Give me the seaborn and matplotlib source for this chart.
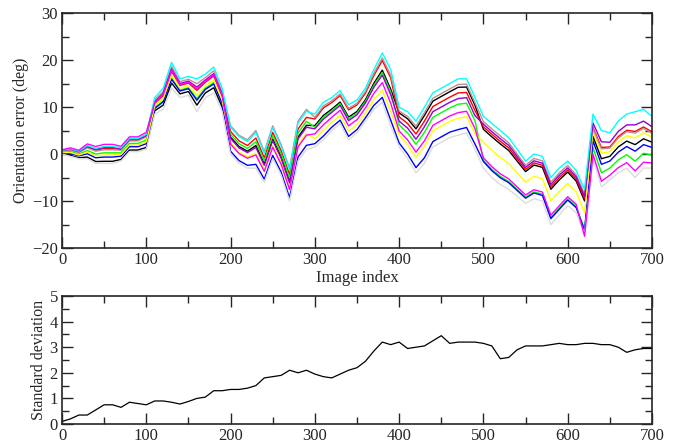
import matplotlib
matplotlib.use("Agg")
import matplotlib.pyplot as plt
import seaborn as sns
import pandas as pd
from matplotlib.ticker import MultipleLocator

# image index, sampled every 10 frames
index = list(range(0, 701, 10))

# orientation error (deg) of each run
black = [0.1, -0.3, -0.8, -0.65, -1.6, -1.55, -1.55, -1.15, 0.85, 0.85, 1.4,
         9.2, 10.4, 15.1, 12.8, 13.3, 10.4, 13.0, 14.1, 10.0,
         3.6, 1.6, 0.6, 1.8, -2.1, 3.2, -0.6, -5.8, 3.6, 6.1,
         6.05, 8.2, 9.55, 11.05, 7.85, 9.05, 11.55, 15.05, 17.85, 13.8,
         8.75, 7.5, 5.35, 8.2, 11.25, 12.25, 13.25, 14.2, 14.25, 10.35,
         5.25, 3.65, 2.15, 0.75, -1.5, -3.75, -2.35, -2.85, -7.5, -5.5, -3.85, -5.75, -10.0,
         3.75, -1.0, -0.5, 1.5, 2.75, 2.0, 3.25, 2.5]
red = [0.7, 0.9, 0.4, 1.45, 0.8, 1.15, 1.15, 0.95, 2.95, 2.95, 3.8,
       10.8, 12.4, 17.6, 14.6, 15.1, 13.55, 15.25, 16.6, 12.25,
       4.8, 2.8, 1.8, 3.4, -0.8, 4.6, 0.7, -4.4, 5.3, 7.8,
       7.45, 9.8, 10.95, 12.45, 9.4, 10.45, 12.95, 16.7, 19.9, 16.2,
       7.9, 6.5, 4.25, 7.0, 10.1, 11.1, 12.1, 13.0, 13.1, 9.25,
       5.8, 4.2, 2.7, 1.3, -1.0, -3.3, -1.9, -2.4, -7.0, -5.0, -3.4, -5.3, -9.5,
       5.65, 1.4, 1.5, 3.7, 5.05, 4.8, 5.75, 4.7]
green = [0.5, 0.5, 0.0, 0.75, 0.0, 0.25, 0.25, 0.25, 2.25, 2.25, 3.0,
         9.9, 11.3, 16.2, 13.6, 14.1, 11.8, 14.0, 15.2, 11.0,
         4.2, 2.2, 1.2, 2.6, -1.45, 3.9, 0.05, -5.1, 4.45, 6.95,
         5.7, 7.8, 9.2, 10.7, 7.5, 8.7, 11.2, 14.6, 17.3, 13.2,
         6.2, 4.5, 2.05, 4.6, 7.8, 8.8, 9.8, 10.6, 10.8, 7.05,
         -1.35, -3.25, -4.75, -5.85, -7.5, -9.15, -8.05, -8.55, -13.5, -11.5, -9.55, -11.15, -16.0,
         1.35, -4.0, -3.0, -1.25, -0.15, -1.5, 0.15, -0.25]
blue = [0.3, 0.1, -0.4, 0.05, -0.8, -0.65, -0.65, -0.45, 1.55, 1.55, 2.2,
        9.7, 11.1, 15.9, 13.4, 13.9, 11.45, 13.75, 14.9, 10.75,
        0.6, -1.4, -2.4, -2.2, -5.35, -0.3, -3.85, -9.3, -0.65, 1.85,
        2.2, 3.8, 5.7, 7.2, 3.75, 5.2, 7.7, 10.35, 12.05, 7.2,
        2.35, 0.0, -2.9, -0.8, 2.65, 3.65, 4.65, 5.2, 5.65, 2.1,
        -1.6, -3.55, -5.05, -6.1, -7.75, -9.4, -8.3, -8.8, -13.75, -11.75, -9.8, -11.4, -16.25,
        2.8, -2.2, -1.5, 0.4, 1.6, 0.6, 2.0, 1.4]
yellow = [0.4, 0.3, -0.2, 0.4, -0.4, -0.2, -0.2, -0.1, 1.9, 1.9, 2.6,
          10.25, 11.75, 16.75, 14.0, 14.5, 12.5, 14.5, 15.75, 11.5,
          2.4, 0.4, -0.6, 0.2, -3.4, 1.8, -1.9, -7.2, 1.9, 4.4,
          3.25, 5.0, 6.75, 8.25, 4.9, 6.25, 8.75, 11.6, 13.6, 9.0,
          4.05, 2.0, -0.7, 1.6, 4.95, 5.95, 6.95, 7.6, 7.95, 4.3,
          2.5, 0.75, -0.75, -2.0, -4.0, -6.0, -4.75, -5.25, -10.0, -8.0, -6.25, -8.0, -12.5,
          4.7, 0.2, 0.5, 2.6, 3.9, 3.4, 4.5, 3.6]
brown = [0.65, 0.8, 0.3, 1.3, 0.6, 0.9, 0.9, 0.8, 2.8, 2.8, 3.6,
         11.5, 13.3, 18.7, 15.4, 15.9, 14.95, 16.25, 17.7, 13.25,
         6.0, 4.0, 3.0, 5.0, 0.5, 6.0, 2.0, -3.0, 7.0, 9.5,
         7.8, 10.2, 11.3, 12.8, 9.75, 10.8, 13.3, 17.15, 20.45, 16.8,
         9.15, 8.0, 5.9, 8.8, 11.85, 12.85, 13.85, 14.8, 14.85, 10.9,
         6.9, 5.35, 3.85, 2.4, 0.0, -2.4, -0.95, -1.45, -6.0, -4.0, -2.45, -4.4, -8.5,
         5.4, 1.1, 1.25, 3.4, 4.75, 4.45, 5.45, 4.4]
grey = [0.0, -0.5, -1.0, -1.0, -2.0, -2.0, -2.0, -1.5, 0.5, 0.5, 1.0,
        8.5, 9.5, 14.0, 12.0, 12.5, 9.0, 12.0, 13.0, 9.0,
        0.0, -2.0, -3.0, -3.0, -6.0, -1.0, -4.5, -10.0, -1.5, 1.0,
        1.5, 3.0, 5.0, 6.5, 3.0, 4.5, 7.0, 9.5, 11.0, 6.0,
        1.5, -1.0, -4.0, -2.0, 1.5, 2.5, 3.5, 4.0, 4.5, 1.0,
        -3.0, -5.0, -6.5, -7.5, -9.0, -10.5, -9.5, -10.0, -15.0, -13.0, -11.0, -12.5, -17.0,
        -1.0, -7.0, -5.5, -4.0, -3.0, -5.0, -3.0, -3.0]
violet = [0.75, 1.0, 0.5, 1.6, 1.0, 1.4, 1.4, 1.1, 3.1, 3.1, 4.0,
          11.1, 12.9, 18.1, 15.0, 15.5, 14.25, 15.75, 17.1, 12.75,
          3.3, 1.3, 0.3, 1.4, -2.4, 2.85, -0.9, -6.15, 3.2, 5.7,
          5.35, 7.4, 8.85, 10.35, 7.1, 8.35, 10.85, 14.2, 16.8, 12.6,
          7.0, 5.5, 3.15, 5.8, 9.0, 10.0, 11.0, 11.8, 12.0, 8.15,
          6.35, 4.75, 3.25, 1.85, -0.5, -2.85, -1.45, -1.95, -6.5, -4.5, -2.95, -4.85, -9.0,
          6.6, 2.6, 2.5, 4.8, 6.2, 6.2, 7.0, 5.8]
cyan = [0.8, 1.1, 0.6, 1.8, 1.2, 1.6, 1.6, 1.3, 3.3, 3.3, 4.2,
        12.0, 14.0, 19.5, 16.0, 16.5, 16.0, 17.0, 18.5, 14.0,
        5.7, 3.7, 2.7, 4.6, 0.2, 5.65, 1.7, -3.35, 6.6, 9.1,
        8.5, 11.0, 12.0, 13.5, 10.5, 11.5, 14.0, 18.0, 21.5, 18.0,
        10.0, 9.0, 7.0, 10.0, 13.0, 14.0, 15.0, 16.0, 16.0, 12.0,
        8.0, 6.5, 5.0, 3.5, 1.0, -1.5, 0.0, -0.5, -5.0, -3.0, -1.5, -3.5, -7.5,
        8.5, 5.0, 4.5, 7.0, 8.5, 9.0, 9.5, 8.0]
magenta = [0.9, 1.3, 0.8, 2.15, 1.6, 2.05, 2.05, 1.65, 3.65, 3.65, 4.6,
           10.95, 12.65, 17.85, 14.8, 15.3, 13.9, 15.5, 16.85, 12.5,
           2.1, 0.1, -0.9, -0.2, -3.7, 1.45, -2.2, -7.55, 1.5, 4.0,
           4.3, 6.2, 7.8, 9.3, 6.0, 7.3, 9.8, 12.9, 15.2, 10.8,
           4.9, 3.0, 0.4, 2.8, 6.1, 7.1, 8.1, 8.8, 9.1, 5.4,
           -0.8, -2.7, -4.2, -5.3, -7.0, -8.7, -7.6, -8.1, -13.0, -11.0, -9.1, -10.7, -17.5,
           -0.05, -5.8, -4.5, -2.9, -1.85, -3.6, -1.75, -1.9]

# standard deviation across runs
std_dev = [0.1, 0.2, 0.35, 0.35, 0.55, 0.75, 0.75, 0.65, 0.85, 0.8, 0.75,
           0.9, 0.9, 0.85, 0.78, 0.88, 1.0, 1.05, 1.3, 1.3,
           1.35, 1.35, 1.4, 1.5, 1.8, 1.85, 1.9, 2.1, 2.0, 2.1,
           1.95, 1.85, 1.8, 1.95, 2.1, 2.2, 2.45, 2.85, 3.2, 3.1,
           3.2, 2.95, 3.0, 3.05, 3.25, 3.45, 3.15, 3.2, 3.2, 3.2,
           3.15, 3.05, 2.55, 2.6, 2.9, 3.05, 3.05, 3.05, 3.1, 3.15,
           3.1, 3.1, 3.15, 3.15, 3.1, 3.1, 3.0, 2.8, 2.9, 2.95, 2.95]

runs = {"black": black, "red": red, "green": green, "blue": blue,
        "yellow": yellow, "brown": brown, "grey": grey, "violet": violet,
        "cyan": cyan, "magenta": magenta}
palette = {"black": "#000000", "red": "#ff0000", "green": "#00ff00",
           "blue": "#0000ff", "yellow": "#ffff00", "brown": "#bc8f8f",
           "grey": "#dcdcdc", "violet": "#9400d3", "cyan": "#00ffff",
           "magenta": "#ff00ff"}

rows = []
for name, vals in runs.items():
    for i, v in zip(index, vals):
        rows.append({"Image index": i, "err": v, "run": name})
df = pd.DataFrame(rows)

sns.set_theme(style="ticks")
plt.rcParams["font.family"] = ["Liberation Serif", "DejaVu Serif"]

fig = plt.figure(figsize=(6.83, 4.45), dpi=100)
ax1 = fig.add_axes([0.0908, 0.4427, 0.8638, 0.528])
ax2 = fig.add_axes([0.0908, 0.0472, 0.8638, 0.2876])

sns.lineplot(data=df, x="Image index", y="err", hue="run",
             hue_order=list(runs.keys()), palette=palette,
             linewidth=1.0, legend=False, ax=ax1)
sns.lineplot(x=index, y=std_dev, color="black", linewidth=0.9, ax=ax2)

ax1.set_xlim(0, 700)
ax1.set_ylim(-20, 30)
ax1.yaxis.set_major_locator(MultipleLocator(10))
ax1.yaxis.set_minor_locator(MultipleLocator(5))
ax1.set_xlabel("Image index", fontsize=12, labelpad=1)
ax1.set_ylabel("Orientation error (deg)", fontsize=11.5, labelpad=2)

ax2.set_xlim(0, 700)
ax2.set_ylim(0, 5)
ax2.yaxis.set_major_locator(MultipleLocator(1))
ax2.yaxis.set_minor_locator(MultipleLocator(0.5))
ax2.set_xlabel("")
ax2.set_ylabel("Standard deviation", fontsize=11.5, labelpad=2)

for ax in (ax1, ax2):
    ax.xaxis.set_major_locator(MultipleLocator(100))
    ax.xaxis.set_minor_locator(MultipleLocator(50))
    ax.tick_params(which="both", direction="in", top=True, right=True,
                   labelsize=12, width=1.0, pad=3)
    ax.tick_params(which="major", length=8)
    ax.tick_params(which="minor", length=5)
    for s in ax.spines.values():
        s.set_linewidth(1.2)

fig.savefig("out.png", dpi=100)
